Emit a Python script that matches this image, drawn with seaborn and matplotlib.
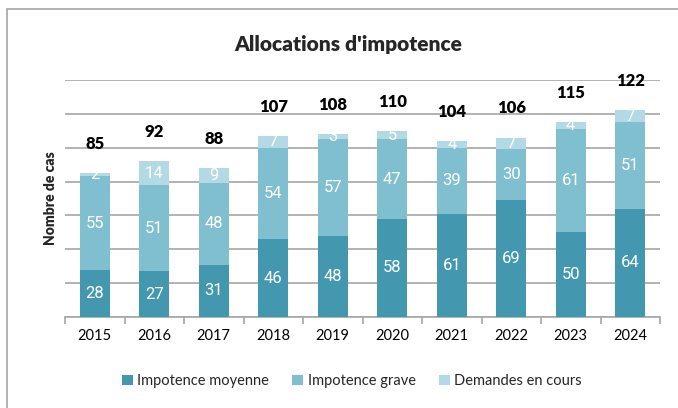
import matplotlib
matplotlib.use("Agg")
import matplotlib.pyplot as plt
import seaborn as sns
import numpy as np
import pandas as pd
from matplotlib.patches import Rectangle
from matplotlib.ticker import FixedLocator, MultipleLocator

years = ["2015", "2016", "2017", "2018", "2019", "2020", "2021", "2022", "2023", "2024"]
moyenne = [28, 27, 31, 46, 48, 58, 61, 69, 50, 64]
grave = [55, 51, 48, 54, 57, 47, 39, 30, 61, 51]
en_cours = [2, 14, 9, 7, 3, 5, 4, 7, 4, 7]
series_names = ["Impotence moyenne", "Impotence grave", "Demandes en cours"]
colors = ["#4398B0", "#7FBFCF", "#B3DAE4"]

sns.set_theme(style="white")
plt.rcParams['font.family'] = ['Lato', 'DejaVu Sans']

fig = plt.figure(figsize=(6.78, 4.08), dpi=100)
ax = fig.add_axes([65/678, 1-317/408, 595/678, (317-80)/408])

data = [moyenne, grave, en_cours]
bottoms = np.zeros(len(years))
narrow = ['Liberation Sans Narrow', 'Roboto', 'DejaVu Sans']
for vals, name, col in zip(data, series_names, colors):
    df = pd.DataFrame({"year": years, "val": vals})
    sns.barplot(data=df, x="year", y="val", bottom=bottoms, color=col, width=0.5,
                errorbar=None, ax=ax, label=name, saturation=1, linewidth=0, zorder=3)
    for i, v in enumerate(vals):
        ax.text(i, bottoms[i] + v/2, str(v), ha="center", va="center", color="white",
                fontsize=12, family=narrow, zorder=4)
    bottoms = bottoms + np.array(vals)

totals = bottoms
for i, t in enumerate(totals):
    ax.annotate(str(int(t)), (i, t), xytext=(0, 21), textcoords="offset points",
                ha="center", va="center", fontsize=12, fontweight="heavy", color="black",
                annotation_clip=False)

ax.set_ylim(0, 140)
ax.set_xlim(-0.5, 9.5)
ax.yaxis.set_major_locator(MultipleLocator(20))
ax.grid(axis="y", color="#A6A6A6", linewidth=1.2, zorder=0)
ax.set_axisbelow(True)
ax.set_yticklabels([])
ax.tick_params(axis="y", length=0)
for s in ["top", "right", "left"]:
    ax.spines[s].set_visible(False)
ax.spines["bottom"].set_color("#A6A6A6")
ax.spines["bottom"].set_linewidth(1.2)
ax.xaxis.set_minor_locator(FixedLocator(np.arange(-0.5, 10, 1)))
ax.tick_params(axis="x", which="major", length=0, labelsize=10.5, pad=9, colors="black")
ax.tick_params(axis="x", which="minor", length=5, width=1.2, color="#A6A6A6", direction="out", bottom=True)
ax.set_xlabel("")
ax.set_ylabel("Nombre de cas", fontsize=10, fontweight="heavy", labelpad=2)

fig.text(348/678, 1-45/408, "Allocations d'impotence", ha="center", va="center",
         fontsize=15, fontweight="heavy")

handles, labels = ax.get_legend_handles_labels()
leg = fig.legend(handles, labels, loc="center", bbox_to_anchor=(352/678, 1-381/408), ncol=3,
                 frameon=False, fontsize=10.5, handlelength=0.75, handleheight=0.75,
                 handletextpad=0.3, columnspacing=1.6)
if ax.get_legend():
    ax.get_legend().remove()

fig.patches.append(Rectangle((7/678, -0.1), 1.2, 1-9/408+0.1, transform=fig.transFigure,
                             fill=False, edgecolor="#A6A6A6", linewidth=1.2))

fig.savefig("out.png", dpi=100)
